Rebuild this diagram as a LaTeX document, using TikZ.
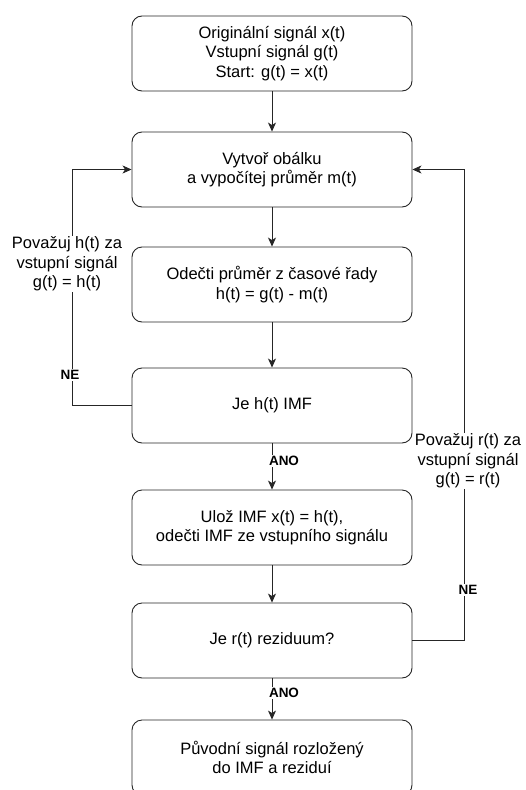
\documentclass[tikz,border=0pt]{standalone}
\usepackage{fontspec}
\setmainfont{Liberation Sans}
\usetikzlibrary{arrows.meta,positioning}
\tikzset{
  stepbox/.style={draw=black!85, line width=0.9pt, rounded corners=10pt,
    minimum width=280pt, minimum height=75pt, align=center,
    font=\fontsize{16.5}{19.5}\selectfont},
  flow/.style={draw=black!85, line width=0.8pt, -{Stealth[length=9pt,width=8pt,inset=2.5pt]}},
  loop/.style={draw=black!85, line width=0.8pt},
  answer/.style={fill=white, inner sep=1pt, font=\fontsize{13.5}{15}\selectfont\bfseries},
  note/.style={fill=white, inner sep=1pt, align=center, font=\fontsize{16.5}{19.5}\selectfont}
}
\begin{document}
\begin{tikzpicture}[x=1pt, y=-1pt]
    \useasboundingbox (0,0) rectangle (526,790);
    \def\midX{272}
    \def\leftX{72}
    \def\rightX{464}

    % main column
    \node [stepbox] (start) at (\midX, 53.5) {Originální signál x(t)\\Vstupní signál g(t)\\Start: g(t) = x(t)};
    \node [stepbox] (envelope) at (\midX, 169.5) {Vytvoř obálku\\a vypočítej průměr m(t)};
    \node [stepbox] (subtract) at (\midX, 284.5) {Odečti průměr z časové řady\\h(t) = g(t) - m(t)};
    \node [stepbox] (isImf) at (\midX, 405.5) {Je h(t) IMF};
    \node [stepbox] (store) at (\midX, 527.5) {Ulož IMF x(t) = h(t),\\odečti IMF ze vstupního signálu};
    \node [stepbox] (isResid) at (\midX, 640.5) {Je r(t) reziduum?};
    \node [stepbox] (result) at (\midX, 757.5) {Původní signál rozložený\\do IMF a reziduí};

    \draw [flow] (start) -- (envelope);
    \draw [flow] (envelope) -- (subtract);
    \draw [flow] (subtract) -- (isImf);
    \draw [flow] (isImf) -- (store);
    \draw [flow] (store) -- (isResid);
    \draw [flow] (isResid) -- (result);

    % feedback loops
    \coordinate (leftTurn) at (\leftX, 405.5);
    \coordinate (rightTurn) at (\rightX, 640.5);
    \draw [loop] (isImf.west) -- (leftTurn);
    \draw [flow] (leftTurn) |- (envelope.west);
    \draw [loop] (isResid.east) -- (rightTurn);
    \draw [flow] (rightTurn) |- (envelope.east);

    % labels
    \node [note] (keepH) at (\leftX-5, 264) {Považuj h(t) za\\vstupní signál\\g(t) = h(t)};
    \node [answer] (noLeft) at (\leftX-2, 375) {NE};
    \node [note] (keepR) at (\rightX+4, 461) {Považuj r(t) za\\vstupní signál\\g(t) = r(t)};
    \node [answer] (noRight) at (\rightX+4, 590) {NE};
    \node [answer] (yesImf) at (\midX+12, 461) {ANO};
    \node [answer] (yesResid) at (\midX+12, 693) {ANO};
\end{tikzpicture}
\end{document}
